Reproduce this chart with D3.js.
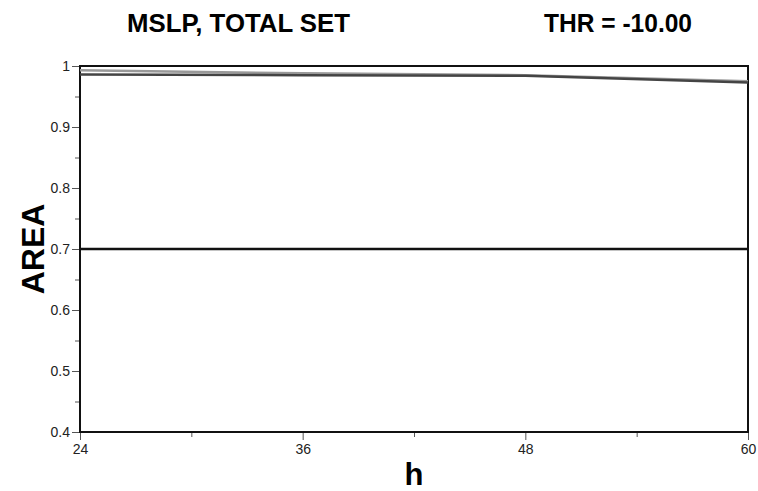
<!DOCTYPE html>
<html><head><meta charset="utf-8">
<script src="https://cdn.jsdelivr.net/npm/d3@7"></script>
<style>body{margin:0;background:#fff}svg{display:block}text{font-family:"Liberation Sans",Arial,sans-serif}</style>
</head><body>
<script>
const hours = [24, 36, 48, 60];
const areaDark = [0.986, 0.985, 0.984, 0.973];
const areaGray = [0.993, 0.988, 0.985, 0.975];
const refLine = [0.7, 0.7, 0.7, 0.7];
const xMajorTicks = [24, 36, 48, 60];
const xMinorTicks = [30, 42, 54];
const yMajorTicks = [0.4, 0.5, 0.6, 0.7, 0.8, 0.9, 1.0];
const yMinorTicks = [0.45, 0.55, 0.65, 0.75, 0.85, 0.95];
const yTickLabels = ["0.4", "0.5", "0.6", "0.7", "0.8", "0.9", "1"];

const W = 758, H = 491;
const m = {l: 80, r: 10, t: 66, b: 59};
const svg = d3.select("body").append("svg").attr("width", W).attr("height", H);
const x = d3.scaleLinear().domain([24, 60]).range([m.l, W - m.r]);
const y = d3.scaleLinear().domain([0.4, 1.0]).range([H - m.b, m.t]);

const gx = svg.append("g").attr("transform", `translate(0,${H - m.b})`);
gx.call(d3.axisBottom(x).tickValues(xMajorTicks).tickSize(8).tickPadding(4).tickFormat(d3.format("d")));
gx.append("g").call(d3.axisBottom(x).tickValues(xMinorTicks).tickSize(5).tickFormat(""));
const gy = svg.append("g").attr("transform", `translate(${m.l},0)`);
gy.call(d3.axisLeft(y).tickValues(yMajorTicks).tickSize(8).tickPadding(2).tickFormat((d, i) => yTickLabels[i]));
gy.append("g").call(d3.axisLeft(y).tickValues(yMinorTicks).tickSize(5).tickFormat(""));
svg.selectAll(".domain").remove();
svg.selectAll(".tick line").attr("stroke", "#555").attr("stroke-width", 1);
svg.selectAll(".tick text").attr("font-size", 14).attr("fill", "#222");

svg.append("rect").attr("x", m.l).attr("y", m.t).attr("width", W - m.r - m.l).attr("height", H - m.b - m.t)
  .attr("fill", "none").attr("stroke", "#111").attr("stroke-width", 2);

const line = d3.line().x((d, i) => x(hours[i])).y(d => y(d));
svg.append("path").datum(areaGray).attr("d", line).attr("fill", "none").attr("stroke", "#999").attr("stroke-width", 2.5);
svg.append("path").datum(areaDark).attr("d", line).attr("fill", "none").attr("stroke", "#444").attr("stroke-width", 2.5);
svg.append("path").datum(refLine).attr("d", line).attr("fill", "none").attr("stroke", "#111").attr("stroke-width", 2.5);

svg.append("text").attr("x", 238.5).attr("y", 32).attr("text-anchor", "middle").attr("font-size", 25).attr("font-weight", "bold")
  .attr("textLength", 223).attr("lengthAdjust", "spacingAndGlyphs").text("MSLP, TOTAL SET");
svg.append("text").attr("x", 618).attr("y", 32).attr("text-anchor", "middle").attr("font-size", 25).attr("font-weight", "bold")
  .attr("textLength", 148).attr("lengthAdjust", "spacingAndGlyphs").text("THR = -10.00");
svg.append("text").attr("transform", "translate(44,249) rotate(-90)").attr("text-anchor", "middle").attr("font-size", 32).attr("font-weight", "bold").text("AREA");
svg.append("text").attr("x", 414).attr("y", 485).attr("text-anchor", "middle").attr("font-size", 31).attr("font-weight", "bold").text("h");
</script>
</body></html>
